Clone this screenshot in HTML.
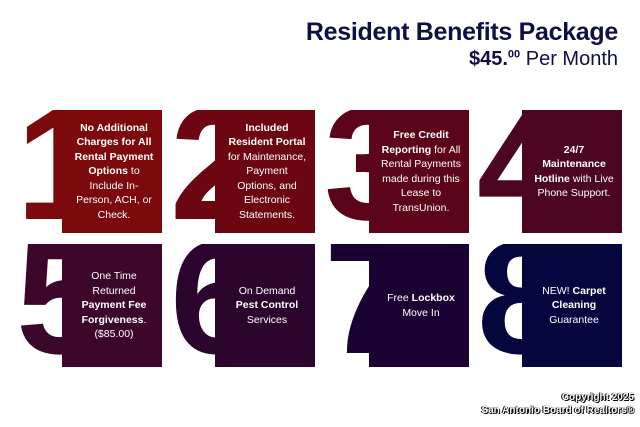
<!DOCTYPE html>
<html><head><style>
body{margin:0;width:640px;height:427px;background:#fff;position:relative;overflow:hidden;font-family:"Liberation Sans",sans-serif}
.t{position:absolute;right:22px;top:18px;font-size:25px;font-weight:bold;color:#0e0f45;letter-spacing:-0.3px}
.p{position:absolute;right:22px;top:48px;font-size:20px;color:#0e0f45}
.p b sup{font-size:11px}
.w{position:absolute;width:60px;height:123px;overflow:hidden}
.n{position:absolute;left:0;top:-26px;font-weight:bold;font-size:160px;line-height:1;letter-spacing:-4px}
.b{position:absolute;width:100px;height:123px;color:#fff;font-size:10.5px;line-height:14.5px;text-align:center;display:flex;align-items:center;justify-content:center}
.b div{width:80px;margin-left:4px}
.c{position:absolute;right:6px;bottom:10px;text-align:right;font-size:10px;font-weight:bold;color:#fff;text-shadow:0 0 1px #000,1px 1px 0 #000,-1px 0 0 #000;line-height:13px}
</style></head><body>
<div class="t">Resident Benefits Package</div>
<div class="p"><b>$45.<sup>00</sup></b> Per Month</div>

<div class="w" style="left:16px;top:110px"><div class="n" style="color:#7c0a0c">1</div></div>
<div class="b" style="left:62px;top:110px;background:#7c0a0c"><div><b>No Additional Charges for All Rental Payment Options</b> to Include In-Person, ACH, or Check.</div></div>

<div class="w" style="left:170px;top:110px"><div class="n" style="color:#6c0712">2</div></div>
<div class="b" style="left:215px;top:110px;background:#6c0712"><div><b>Included Resident Portal</b> for Maintenance, Payment Options, and Electronic Statements.</div></div>

<div class="w" style="left:324px;top:110px"><div class="n" style="color:#5c051a">3</div></div>
<div class="b" style="left:369px;top:110px;background:#5c051a"><div><b>Free Credit Reporting</b> for All Rental Payments made during this Lease to TransUnion.</div></div>

<div class="w" style="left:477px;top:110px"><div class="n" style="color:#4c0622">4</div></div>
<div class="b" style="left:522px;top:110px;background:#4c0622"><div><b>24/7 Maintenance Hotline</b> with Live Phone Support.</div></div>

<div class="w" style="left:16px;top:244px"><div class="n" style="color:#3c072a">5</div></div>
<div class="b" style="left:62px;top:244px;background:#3c072a"><div>One Time Returned <b>Payment Fee Forgiveness</b>. ($85.00)</div></div>

<div class="w" style="left:170px;top:244px"><div class="n" style="color:#2c052e">6</div></div>
<div class="b" style="left:215px;top:244px;background:#2c052e"><div>On Demand <b>Pest Control</b> Services</div></div>

<div class="w" style="left:324px;top:244px"><div class="n" style="color:#1a0333">7</div></div>
<div class="b" style="left:369px;top:244px;background:#1a0333"><div>Free <b>Lockbox</b> Move In</div></div>

<div class="w" style="left:477px;top:244px"><div class="n" style="color:#06063f">8</div></div>
<div class="b" style="left:522px;top:244px;background:#06063f"><div>NEW! <b>Carpet Cleaning</b> Guarantee</div></div>

<div class="c">Copyright 2025<br>San Antonio Board of Realtors®</div>
</body></html>
